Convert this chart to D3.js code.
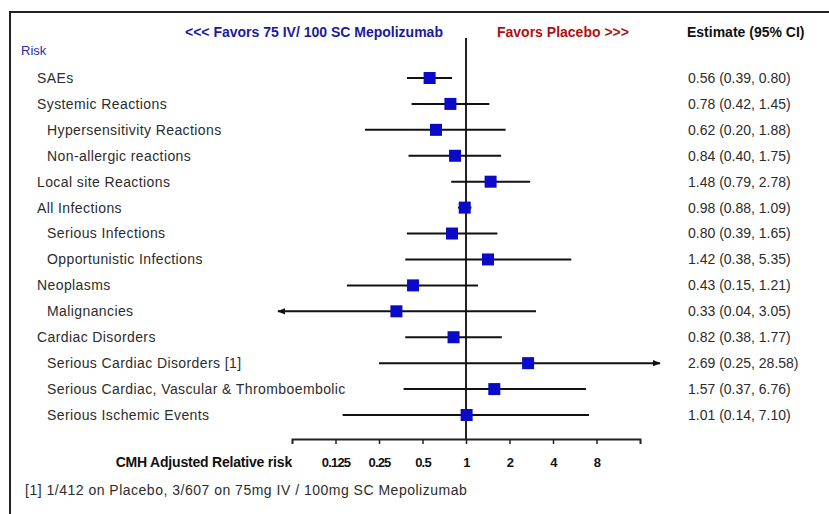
<!DOCTYPE html>
<html>
<head>
<meta charset="utf-8">
<script src="https://cdn.jsdelivr.net/npm/d3@7/dist/d3.min.js"></script>
<style>
  html, body { margin: 0; padding: 0; background: #fff; }
  svg { display: block; font-family: "Liberation Sans", Arial, sans-serif; }
</style>
</head>
<body>
<svg id="chart" width="829" height="514"></svg>
<script>
// Forest plot of relative risks (estimate with 95% CI)
const labels = [
  "SAEs",
  "Systemic Reactions",
  "Hypersensitivity Reactions",
  "Non-allergic reactions",
  "Local site Reactions",
  "All Infections",
  "Serious Infections",
  "Opportunistic Infections",
  "Neoplasms",
  "Malignancies",
  "Cardiac Disorders",
  "Serious Cardiac Disorders [1]",
  "Serious Cardiac, Vascular & Thromboembolic",
  "Serious Ischemic Events"
];
const isSubgroup = [false, false, true, true, false, false, true, true, false, true, false, true, true, true];
const estimate = [0.56, 0.78, 0.62, 0.84, 1.48, 0.98, 0.80, 1.42, 0.43, 0.33, 0.82, 2.69, 1.57, 1.01];
const lower    = [0.39, 0.42, 0.20, 0.40, 0.79, 0.88, 0.39, 0.38, 0.15, 0.04, 0.38, 0.25, 0.37, 0.14];
const upper    = [0.80, 1.45, 1.88, 1.75, 2.78, 1.09, 1.65, 5.35, 1.21, 3.05, 1.77, 28.58, 6.76, 7.10];
const tickValues = [0.125, 0.25, 0.5, 1, 2, 4, 8];
const tickLabels = ["0.125", "0.25", "0.5", "1", "2", "4", "8"];

const svg = d3.select("#chart");

const x = d3.scaleLog().base(2).domain([0.0625, 16]).range([292, 640]);
const y = d3.scalePoint().domain(d3.range(labels.length)).range([78, 415]);
// CI lines are cut off here and finished with an arrowhead
const clipLo = 0.05, clipHi = 22;

const fmt = d3.format(".2f");
const textColor = "#2c2c2c";

// outer frame
svg.append("rect")
  .attr("x", 10).attr("y", 12).attr("width", 900).attr("height", 600)
  .attr("fill", "none").attr("stroke", "#222").attr("stroke-width", 2);

// header
svg.append("text").attr("x", 185).attr("y", 37)
  .attr("font-size", 14).attr("font-weight", "bold").attr("fill", "#1a1a9e")
  .text("<<< Favors 75 IV/ 100 SC Mepolizumab");
svg.append("text").attr("x", 497).attr("y", 37)
  .attr("font-size", 14).attr("font-weight", "bold").attr("fill", "#b01010")
  .text("Favors Placebo >>>");
svg.append("text").attr("x", 687).attr("y", 37)
  .attr("font-size", 14).attr("font-weight", "bold").attr("fill", "#111")
  .text("Estimate (95% CI)");
svg.append("text").attr("x", 21).attr("y", 55)
  .attr("font-size", 13).attr("fill", "#2a2ab0")
  .text("Risk");

// reference line at RR = 1
svg.append("line")
  .attr("x1", x(1)).attr("x2", x(1)).attr("y1", 38).attr("y2", 439)
  .attr("stroke", "#222").attr("stroke-width", 2);

// axis
const axis = d3.axisBottom(x).tickValues(tickValues)
  .tickFormat((d, i) => tickLabels[i]).tickSizeOuter(0).tickSize(5).tickPadding(14);
const gAxis = svg.append("g").attr("transform", "translate(0,439)").call(axis);
gAxis.select(".domain").attr("stroke", "#222").attr("stroke-width", 2);
gAxis.selectAll(".tick line").attr("stroke", "#222").attr("stroke-width", 1.5);
gAxis.selectAll(".tick text").attr("font-size", 13).attr("font-weight", "bold")
  .attr("fill", "#111").attr("letter-spacing", -0.8)
  .attr("font-family", "'Liberation Sans', Arial, sans-serif");

svg.append("text").attr("x", 292).attr("y", 467).attr("text-anchor", "end")
  .attr("font-size", 14).attr("font-weight", "bold").attr("fill", "#111")
  .attr("letter-spacing", -0.2)
  .text("CMH Adjusted Relative risk");

// footnote
svg.append("text").attr("x", 25).attr("y", 495)
  .attr("font-size", 14).attr("fill", textColor).attr("letter-spacing", 0.5)
  .text("[1] 1/412 on Placebo, 3/607 on 75mg IV / 100mg SC Mepolizumab");

// arrowheads for truncated intervals
const defs = svg.append("defs");
defs.append("marker").attr("id", "arrow").attr("viewBox", "0 0 10 10")
  .attr("refX", 9).attr("refY", 5).attr("markerWidth", 4).attr("markerHeight", 4)
  .attr("orient", "auto-start-reverse")
  .append("path").attr("d", "M0,1 L10,5 L0,9 Z").attr("fill", "#111");

const rows = svg.append("g").selectAll("g").data(labels.map((l, i) => i)).join("g");

rows.append("text")
  .attr("x", i => isSubgroup[i] ? 47 : 37)
  .attr("y", i => y(i)).attr("dy", "0.35em")
  .attr("font-size", 14).attr("fill", textColor).attr("letter-spacing", 0.4)
  .text(i => labels[i]);

rows.append("line")
  .attr("x1", i => x(Math.max(lower[i], clipLo)))
  .attr("x2", i => x(Math.min(upper[i], clipHi)))
  .attr("y1", i => y(i)).attr("y2", i => y(i))
  .attr("stroke", "#111").attr("stroke-width", 2)
  .attr("marker-start", i => lower[i] < clipLo ? "url(#arrow)" : null)
  .attr("marker-end", i => upper[i] > clipHi ? "url(#arrow)" : null);

const sq = 12;
rows.append("rect")
  .attr("x", i => x(estimate[i]) - sq / 2)
  .attr("y", i => y(i) - sq / 2)
  .attr("width", sq).attr("height", sq)
  .attr("fill", "#0a0ac8");

rows.append("text")
  .attr("x", 688).attr("y", i => y(i)).attr("dy", "0.35em")
  .attr("font-size", 14).attr("fill", textColor)
  .text(i => `${fmt(estimate[i])} (${fmt(lower[i])}, ${fmt(upper[i])})`);
</script>
</body>
</html>
